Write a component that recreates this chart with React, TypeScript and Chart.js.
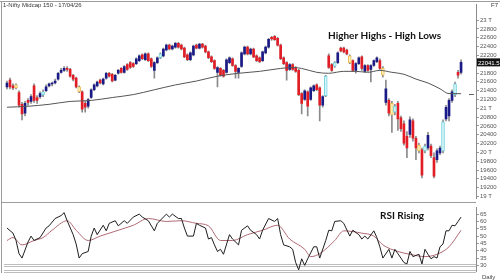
import React, { useEffect, useRef } from "react";
import { Chart, registerables } from "chart.js";

Chart.register(...registerables);

// ---- Daily candles (Nifty Midcap 150) ----
const opens = [
  21486, 21640, 21508, 21530, 21354, 21090, 20892, 21178, 21156, 21508,
  21244, 21266, 21310, 21398, 21508, 21552, 21574, 21662, 21816, 21860,
  21904, 21882, 21750, 21684, 21486, 21376, 21112, 21046, 21244, 21420,
  21508, 21640, 21552, 21684, 21794, 21772, 21640, 21794, 21904, 21816,
  21992, 22036, 22014, 22014, 22080, 22212, 22102, 22234, 22124, 21860,
  22036, 22146, 22190, 22322, 22432, 22344, 22388, 22476, 22432, 22366,
  22212, 22102, 22212, 22432, 22366, 22454, 22410, 22278, 22168, 22080,
  21816, 21904, 21860, 21816, 22036, 22124, 21970, 21816, 21948, 22234,
  22388, 22234, 22344, 22190, 22146, 22080, 22256, 22388, 22608, 22630,
  22586, 22432, 22146, 22036, 21882, 21992, 21926, 21860, 21332, 21200,
  21376, 21200, 21398, 21530, 21464, 21068, 21288, 22190, 21992, 21948,
  22036, 22366, 22366, 22322, 22190, 22080, 21860, 22014, 22168, 21838,
  21970, 21882, 21970, 22058, 22080, 21904, 21134, 21178, 21112, 20914,
  21112, 20782, 20650, 20364, 20408, 20716, 20320, 20166, 20056, 20034,
  20100, 20144, 19880, 19836, 19990, 20034, 20760, 20826, 21178, 21310,
  21816, 21816,
];
const highs = [
  21618, 21684, 21552, 21552, 21398, 21134, 21156, 21222, 21310, 21552,
  21288, 21376, 21420, 21530, 21574, 21596, 21662, 21816, 21904, 21948,
  21948, 21904, 21772, 21706, 21508, 21398, 21156, 21222, 21442, 21552,
  21618, 21662, 21684, 21816, 21816, 21794, 21772, 21882, 21926, 21970,
  22014, 22058, 22036, 22146, 22212, 22234, 22256, 22256, 22146, 22058,
  22168, 22256, 22366, 22454, 22454, 22432, 22498, 22498, 22454, 22388,
  22234, 22278, 22432, 22454, 22476, 22476, 22432, 22300, 22190, 22102,
  21948, 21926, 21882, 22124, 22168, 22146, 21992, 21926, 22278, 22410,
  22410, 22366, 22366, 22212, 22168, 22300, 22410, 22586, 22630, 22652,
  22608, 22454, 22168, 22058, 22014, 22014, 21948, 21882, 21354, 21420,
  21398, 21486, 21530, 21552, 21486, 21288, 21750, 22234, 22014, 22058,
  22278, 22388, 22388, 22344, 22212, 22102, 22036, 22168, 22190, 21992,
  21992, 21992, 22102, 22168, 22124, 21948, 21640, 21222, 21156, 21090,
  21156, 20826, 20716, 20474, 20804, 20760, 20364, 20210, 20100, 20188,
  20452, 20188, 19990, 20078, 20144, 20738, 21068, 21222, 21420, 21596,
  21860, 22102,
];
const lows = [
  21442, 21442, 21420, 21442, 21024, 20738, 20826, 21068, 21112, 21134,
  21112, 21222, 21266, 21376, 21486, 21508, 21552, 21640, 21794, 21838,
  21838, 21706, 21618, 21464, 21354, 20914, 20914, 21002, 21222, 21398,
  21486, 21552, 21530, 21662, 21706, 21596, 21618, 21772, 21794, 21794,
  21860, 21904, 21926, 21992, 22058, 22102, 22080, 22058, 21926, 21684,
  22014, 22124, 22168, 22300, 22322, 22322, 22366, 22366, 22322, 22146,
  22080, 22080, 22190, 22344, 22344, 22366, 22256, 22124, 22036, 21882,
  21486, 21728, 21706, 21794, 22014, 21948, 21684, 21684, 21926, 22212,
  22212, 22212, 22146, 22058, 22036, 22058, 22234, 22366, 22542, 22542,
  22410, 22102, 21992, 21640, 21860, 21860, 21816, 21288, 20870, 21178,
  20826, 21178, 21376, 21398, 20716, 21024, 21266, 21904, 21838, 21926,
  22014, 22278, 22256, 22212, 22014, 21838, 21794, 21992, 21860, 21816,
  21838, 21596, 21948, 22036, 21882, 21706, 21068, 20826, 20452, 20848,
  20496, 20474, 20166, 19880, 20342, 20254, 19836, 19990, 19418, 19990,
  20056, 19880, 19418, 19770, 19946, 19990, 20716, 20716, 21134, 21266,
  21684, 21772,
];
const closes = [
  21574, 21486, 21464, 21464, 21068, 20870, 21112, 21134, 21266, 21178,
  21178, 21332, 21376, 21486, 21552, 21574, 21618, 21794, 21860, 21904,
  21882, 21728, 21662, 21486, 21376, 20980, 21024, 21200, 21420, 21530,
  21596, 21574, 21662, 21794, 21728, 21618, 21750, 21860, 21816, 21948,
  21882, 21926, 21948, 22124, 22190, 22124, 22234, 22080, 21948, 22036,
  22146, 22234, 22344, 22432, 22344, 22410, 22476, 22388, 22344, 22168,
  22102, 22256, 22410, 22366, 22454, 22388, 22278, 22146, 22058, 21904,
  21926, 21750, 21728, 22102, 22146, 21970, 21838, 21904, 22256, 22388,
  22234, 22344, 22168, 22080, 22058, 22278, 22388, 22564, 22575, 22555,
  22432, 22124, 22014, 21860, 21992, 21882, 21838, 21310, 21112, 21398,
  21046, 21464, 21508, 21420, 21068, 21266, 21728, 21926, 21860, 22036,
  22256, 22300, 22278, 22234, 22036, 21860, 22014, 22146, 21904, 21970,
  21860, 21970, 22080, 22146, 21904, 21750, 21442, 20892, 20848, 21046,
  20760, 20540, 20210, 20100, 20738, 20320, 20100, 20034, 19484, 20144,
  20386, 19924, 19462, 20034, 20100, 20694, 21024, 21178, 21376, 21552,
  21750, 22041.5,
];
// candles highlighted by the charting package's pattern signals
const bullSignals = [12, 51, 106, 109, 129, 139, 145, 149];
const bearSignals = [3, 24, 114, 125, 128, 137];

// moving average (read at sampled candles)
const maIndex = [0, 7, 14, 21, 28, 35, 42, 49, 56, 63, 70, 77, 84, 91, 95, 98, 103, 107, 112, 116, 120, 124, 128, 132, 136, 140, 144, 147, 151];
const maValues = [21024, 21046, 21090, 21156, 21178, 21244, 21310, 21420, 21530, 21618, 21728, 21794, 21838, 21904, 21926, 21904, 21816, 21794, 21838, 21838, 21816, 21860, 21816, 21772, 21662, 21574, 21442, 21332, 21332];

// RSI and its average
const rsiIndex = [0, 2, 3, 4, 5, 7, 8, 9, 11, 13, 14, 16, 18, 19, 20, 22, 23, 24, 25, 27, 28, 29, 30, 32, 33, 34, 36, 37, 39, 40, 42, 44, 45, 47, 49, 50, 53, 54, 55, 57, 58, 59, 60, 62, 63, 64, 66, 67, 68, 69, 70, 71, 72, 74, 75, 77, 78, 80, 81, 83, 84, 85, 87, 89, 90, 91, 92, 94, 95, 96, 97, 98, 99, 100, 102, 103, 104, 106, 107, 108, 109, 111, 112, 114, 115, 117, 118, 119, 120, 122, 123, 124, 125, 127, 128, 129, 130, 131, 132, 133, 134, 135, 137, 138, 139, 140, 141, 142, 143, 144, 145, 146, 147, 148, 149, 150, 151];
const rsiValues = [55.5, 52, 47, 38, 35, 46, 50, 47, 49, 55.5, 57, 62, 64, 66, 60.5, 51, 44.6, 35, 38, 39.5, 50, 55.5, 51, 57.4, 53.6, 58.7, 60.5, 57, 60.5, 58.7, 63, 65, 63, 60.5, 53.6, 58.7, 65, 63, 65, 62, 62, 55.5, 50, 50, 58.7, 57.4, 55.5, 48, 49, 44, 39.5, 41, 37.6, 51, 48, 44, 54, 57, 54, 51, 48, 54, 62, 60, 62, 51, 44, 42.7, 41, 32, 27, 34.5, 30, 34.5, 42.7, 42.7, 35, 47, 54, 53.6, 60, 60.5, 58.7, 50, 54, 51, 48, 50, 48, 53.6, 49, 42.7, 35, 41, 35, 41, 38, 35, 32, 31, 39.5, 36, 37.6, 31, 41, 37.6, 34.5, 36, 35, 42.7, 44.6, 53.6, 53.6, 57.4, 57, 60, 63];
const rsiAvgIndex = [0, 2, 5, 9, 12, 15, 20, 23, 27, 31, 37, 42, 47, 53, 58, 63, 67, 71, 75, 80, 85, 90, 94, 99, 101, 104, 109, 112, 118, 122, 125, 130, 134, 139, 143, 147, 151];
const rsiAvgValues = [47, 49, 44, 47, 49, 54, 60.5, 54, 47, 50, 54, 57.4, 62, 60, 60.5, 58.7, 57, 47, 47, 51, 54, 57.4, 48, 41, 36, 38, 47, 53.6, 52, 50, 44, 39.5, 37.6, 36, 37.6, 42.7, 54];

// axes
const dateTickIndex = [5, 11, 17, 22, 27, 34, 39, 45, 51, 57, 62, 68, 73, 79, 85, 90, 97, 102, 107, 113, 119, 124, 130, 135, 142, 147];
const dateTickLabels = ["29", "8", "16", "24", "O", "13", "21", "30", "N", "18", "26", "D", "12", "22", "31", "'26", "19", "26", "F", "12", "20", "M", "11", "19", "30", "A"];
const priceTicks = [19000, 19200, 19400, 19600, 19800, 20000, 20200, 20400, 20600, 20800, 21000, 21200, 21400, 21600, 21800, 22000, 22200, 22400, 22600, 22800, 23000];
const rsiTicks = [30, 35, 40, 45, 50, 55, 60, 65];
const rsiLevels = [30];

const titleText = "1-Nifty Midcap 150 - 17/04/26";
const cornerText = "F7";
const priceNote = "Higher Highs - High Lows";
const rsiNote = "RSI Rising";
const periodText = "Daily";

const X_MIN = -1.66;
const X_MAX = 155.97;
const FONT = "'Liberation Sans', Arial, sans-serif";
const NOTE_FONT = "bold 10px Lato, 'Open Sans', sans-serif";

const UP = "#1b1b87";
const DOWN = "#e11d25";

function isBull(i: number) { return bullSignals.indexOf(i) >= 0; }
function isBear(i: number) { return bearSignals.indexOf(i) >= 0; }

export default function App() {
  const mainRef = useRef<HTMLCanvasElement>(null);
  const rsiRef = useRef<HTMLCanvasElement>(null);

  useEffect(() => {
    const n = closes.length;
    const idx = closes.map((_, i) => i);
    const wickData = idx.map((i) => ({ x: i, y: [lows[i], highs[i]] }));
    const bodyData = idx.map((i) =>
      isBull(i) || isBear(i) ? { x: i, y: null } : { x: i, y: [opens[i], closes[i]] }
    );
    const flagData = idx.map((i) =>
      isBull(i) || isBear(i) ? { x: i, y: [opens[i], closes[i]] } : { x: i, y: null }
    );

    const mainDecor = {
      id: "mainDecor",
      afterDraw(chart: any) {
        const ctx = chart.ctx;
        const a = chart.chartArea;
        const ys = chart.scales.y;
        ctx.save();
        ctx.strokeStyle = "#9c9c9c";
        ctx.lineWidth = 1;
        ctx.beginPath();
        ctx.moveTo(0, 1.5); ctx.lineTo(500, 1.5);
        ctx.moveTo(1.5, 1.5); ctx.lineTo(1.5, 203);
        ctx.moveTo(1.5, 202.5); ctx.lineTo(a.right, 202.5);
        ctx.stroke();

        ctx.fillStyle = "#333";
        ctx.font = `6px ${FONT}`;
        ctx.textBaseline = "middle";
        ctx.textAlign = "left";
        ctx.fillText(titleText, 3, 5.5);
        ctx.textAlign = "right";
        ctx.fillText(cornerText, 498, 5.5);

        ctx.font = NOTE_FONT;
        ctx.fillStyle = "#111";
        ctx.textAlign = "left";
        ctx.fillText(priceNote, 328, 36);

        const last = closes[n - 1];
        const py = ys.getPixelForValue(last);
        ctx.fillStyle = "#111";
        ctx.fillRect(477, py - 4, 23, 8);
        ctx.fillStyle = "#fff";
        ctx.font = `6px ${FONT}`;
        ctx.fillText(String(last), 478, py + 0.5);

        const my = Math.round(ys.getPixelForValue(maValues[maValues.length - 1])) + 0.5;
        ctx.strokeStyle = "#666";
        ctx.beginPath();
        ctx.moveTo(469, my); ctx.lineTo(474, my);
        ctx.stroke();
        ctx.restore();
      },
    };

    const main = new Chart(mainRef.current as HTMLCanvasElement, {
      type: "bar",
      data: {
        datasets: [
          {
            type: "line",
            data: maIndex.map((x, k) => ({ x, y: maValues[k] })),
            borderColor: "#555",
            borderWidth: 1,
            pointRadius: 0,
            cubicInterpolationMode: "monotone",
            order: 0,
          } as any,
          {
            data: flagData as any,
            backgroundColor: (c: any) => (isBull(c.dataIndex) ? "#d6f6fa" : "#fdf1b4"),
            borderColor: (c: any) => (isBull(c.dataIndex) ? "#74d3df" : "#efbe5a"),
            borderWidth: 1,
            borderSkipped: false,
            barThickness: 3,
            grouped: false,
            order: 1,
          } as any,
          {
            data: bodyData as any,
            backgroundColor: (c: any) => (closes[c.dataIndex] >= opens[c.dataIndex] ? UP : DOWN),
            borderWidth: 0,
            barThickness: 2,
            grouped: false,
            order: 2,
          } as any,
          {
            data: wickData as any,
            backgroundColor: "#8a8a8a",
            borderWidth: 0,
            barThickness: 1,
            grouped: false,
            order: 3,
          } as any,
        ],
      },
      options: {
        animation: false,
        responsive: false,
        devicePixelRatio: 1,
        events: [],
        layout: { padding: { left: 2, top: 2, right: 0, bottom: 1 } },
        plugins: { legend: { display: false }, tooltip: { enabled: false } },
        scales: {
          x: { type: "linear", min: X_MIN, max: X_MAX, display: false, offset: false },
          y: {
            position: "right",
            min: 18956,
            max: 23352,
            afterBuildTicks: (s: any) => { s.ticks = priceTicks.map((v) => ({ value: v })); },
            afterFit: (s: any) => { s.width = 24; },
            ticks: {
              autoSkip: false,
              font: { size: 6, family: FONT },
              color: "#555",
              padding: 1,
              callback: (v: any) => (v % 1000 === 0 ? `${v / 1000} T` : String(v)),
            },
            grid: { drawOnChartArea: false, drawTicks: true, tickLength: 3, color: "#999" },
            border: { display: true, color: "#8c8c8c" },
          },
        },
      } as any,
      plugins: [mainDecor],
    });

    const rsiDecor = {
      id: "rsiDecor",
      beforeDatasetsDraw(chart: any) {
        const ctx = chart.ctx;
        const a = chart.chartArea;
        const ys = chart.scales.y;
        ctx.save();
        ctx.strokeStyle = "#bdbdbd";
        ctx.lineWidth = 1;
        ctx.beginPath();
        rsiLevels.forEach((lv) => {
          const y = Math.round(ys.getPixelForValue(lv)) + 0.5;
          ctx.moveTo(a.left + 2, y - 1); ctx.lineTo(a.right, y - 1);
          ctx.moveTo(a.left + 2, y + 1); ctx.lineTo(a.right, y + 1);
        });
        ctx.moveTo(a.left + 2, a.bottom - 0.5); ctx.lineTo(a.right, a.bottom - 0.5);
        ctx.moveTo(a.left + 2, a.bottom + 1.5); ctx.lineTo(a.right, a.bottom + 1.5);
        ctx.stroke();
        ctx.strokeStyle = "#9c9c9c";
        ctx.beginPath();
        ctx.moveTo(1.5, 0); ctx.lineTo(1.5, a.bottom + 2);
        ctx.stroke();
        ctx.restore();
      },
      afterDraw(chart: any) {
        const ctx = chart.ctx;
        ctx.save();
        ctx.font = NOTE_FONT;
        ctx.fillStyle = "#111";
        ctx.textBaseline = "middle";
        ctx.textAlign = "left";
        ctx.fillText(rsiNote, 380, 13);
        ctx.font = `6px ${FONT}`;
        ctx.fillStyle = "#444";
        ctx.fillText(periodText, 482, 74);
        ctx.restore();
      },
    };

    const rsi = new Chart(rsiRef.current as HTMLCanvasElement, {
      type: "line",
      data: {
        datasets: [
          {
            data: rsiIndex.map((x, k) => ({ x, y: rsiValues[k] })),
            borderColor: "#1e1e1e",
            borderWidth: 1,
            pointRadius: 0,
            tension: 0,
            order: 0,
          },
          {
            data: rsiAvgIndex.map((x, k) => ({ x, y: rsiAvgValues[k] })),
            borderColor: "#b06a74",
            borderWidth: 1,
            pointRadius: 0,
            cubicInterpolationMode: "monotone",
            order: 1,
          },
        ],
      },
      options: {
        animation: false,
        responsive: false,
        devicePixelRatio: 1,
        events: [],
        layout: { padding: { left: 2, top: 0, right: 0, bottom: 0 } },
        plugins: { legend: { display: false }, tooltip: { enabled: false } },
        scales: {
          x: {
            type: "linear",
            min: X_MIN,
            max: X_MAX,
            offset: false,
            afterBuildTicks: (s: any) => { s.ticks = dateTickIndex.map((v) => ({ value: v })); },
            afterFit: (s: any) => { s.height = 9; },
            ticks: {
              autoSkip: false,
              maxRotation: 0,
              font: { size: 6, family: FONT },
              color: "#9a9a9a",
              padding: 1,
              callback: (_v: any, i: number) => dateTickLabels[i],
            },
            grid: { display: false },
            border: { display: false },
          },
          y: {
            position: "right",
            min: 26.18,
            max: 69.45,
            afterBuildTicks: (s: any) => { s.ticks = rsiTicks.map((v) => ({ value: v })); },
            afterFit: (s: any) => { s.width = 24; },
            ticks: { autoSkip: false, font: { size: 6, family: FONT }, color: "#555", padding: 1 },
            grid: { drawOnChartArea: false, drawTicks: true, tickLength: 3, color: "#999" },
            border: { display: true, color: "#8c8c8c" },
          },
        },
      } as any,
      plugins: [rsiDecor],
    });

    return () => {
      main.destroy();
      rsi.destroy();
    };
  }, []);

  return (
    <div style={{ position: "absolute", left: 0, top: 0, width: 500, height: 280, background: "#fff", overflow: "hidden" }}>
      <canvas ref={mainRef} width={500} height={203} style={{ position: "absolute", left: 0, top: 0, width: 500, height: 203 }} />
      <canvas ref={rsiRef} width={500} height={77} style={{ position: "absolute", left: 0, top: 203, width: 500, height: 77 }} />
    </div>
  );
}
